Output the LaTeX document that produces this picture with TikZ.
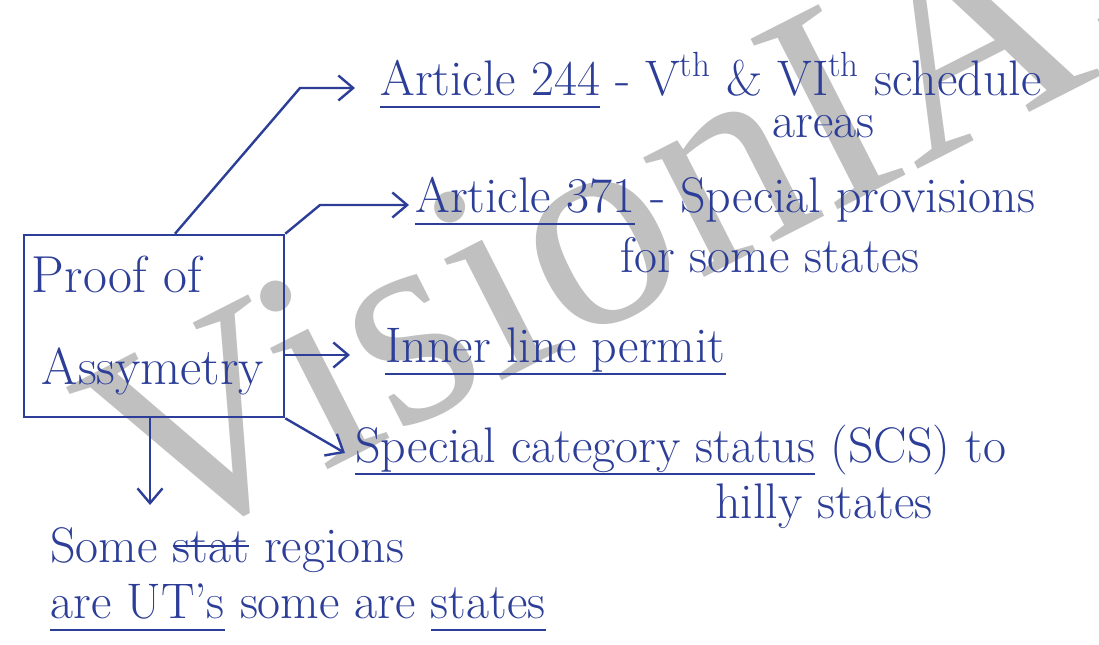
\documentclass[tikz,border=0pt]{standalone}
\usepackage{fontspec}
\newfontfamily\markfont{Liberation Serif}
\usetikzlibrary{arrows.meta,calc}
\definecolor{cInk} {HTML}{2C3E98}
\definecolor{cMark}{HTML}{C0C0C0}
% hand-drawn under- and strike-through lines
\newcommand{\uln}[1]{\setbox0\hbox{#1}\rlap{\rule[-0.26em]{\wd0}{1.1pt}}\box0\relax}
\newcommand{\strk}[1]{\setbox0\hbox{#1}\rlap{\rule[0.3em]{\wd0}{1.1pt}}\box0\relax}
\tikzset{
  note/.style ={text=cInk,font=\fontsize{25}{29}\selectfont,inner sep=0pt,anchor=base west},
  frame/.style={draw=cInk,line width=1.3pt,text=cInk,align=left,text width=122pt,
                minimum width=130pt,minimum height=91pt,inner sep=4pt,
                font=\fontsize{26}{30}\selectfont},
  pen/.style  ={-{Straight Barb[length=2.6mm,width=4.4mm]},draw=cInk,line width=1.2pt},
  wmark/.style={text=cMark,font=\markfont\fontsize{146}{146}\selectfont,inner sep=0pt,
                anchor=base west,rotate=27},
}

\begin{document}
\begin{tikzpicture}[x=0.5pt, y=-0.5pt]
\useasboundingbox (0,0) rectangle (1099,644);
\fill[white] (0,0) rectangle (1099,644);

% ===== watermark ===========================================================
\begin{scope}
  \clip (0,0) rectangle (1099,644);
  \node[wmark] (mark) at (150,560) {VisionIAS};
\end{scope}

% ===== central box =========================================================
\node[frame] (box) at (154,326) {Proof of\\[16pt]\hspace*{5pt}Assymetry};

% ===== branches ============================================================
\node[note] (a244) at (380,95)
  {\uln{Article 244} - V\textsuperscript{th} \& VI\textsuperscript{th} schedule};
\node[note] (areas) at (772,137) {areas};
\node[note] (a371) at (415,212) {\uln{Article 371} - Special provisions};
\node[note] (fss) at (620,272) {for some states};
\node[note] (ilp) at (385,362) {\uln{Inner line permit}};
\node[note] (scs) at (355,462) {\uln{Special category status} (SCS) to};
\node[note] (hilly) at (715,518) {hilly states};

\draw[pen] ($(box.north)+(21,0)$) -- ($(a244.base west)+(-80,-7)$)
  -- ($(a244.base west)+(-25,-7)$);
\draw[pen] (box.north east) -- ($(a371.base west)+(-95,-7)$)
  -- ($(a371.base west)+(-6,-7)$);
\draw[pen] ($(ilp.base west -| box.east)+(0,-7)$) -- ($(ilp.base west)+(-35,-7)$);
\draw[pen] (box.south east) -- ($(scs.base west)+(-10,-9)$);

% ===== below the box =======================================================
\node[note] (some) at (50,562) {Some \strk{stat} regions};
\node[note] (ut) at (50,618) {\uln{are UT's} some are \uln{states}};
\coordinate (dn) at (150,505);
\draw[pen] ($(box.south)+(-4,0)$) -- (dn);
\end{tikzpicture}
\end{document}
